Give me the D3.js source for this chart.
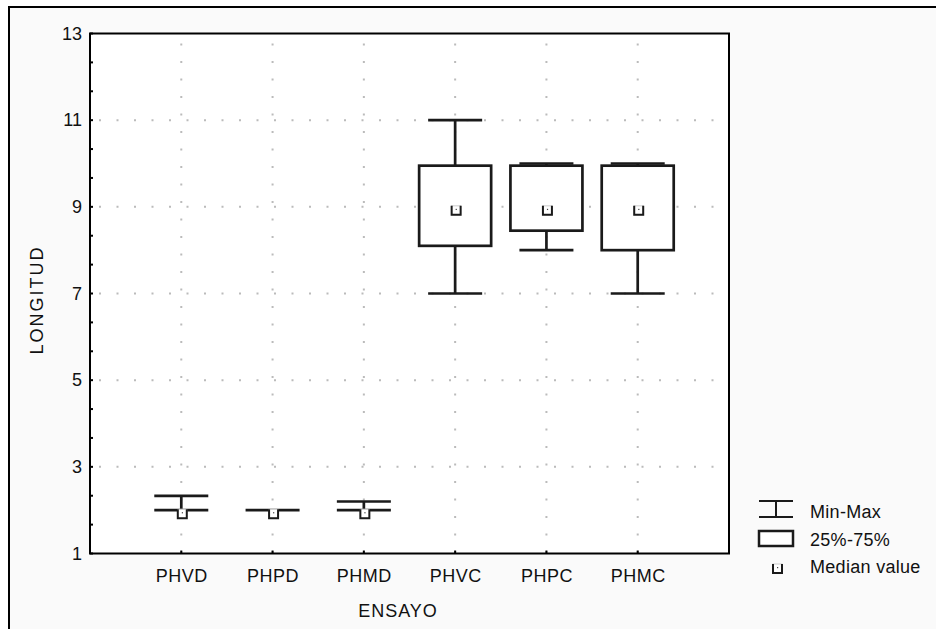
<!DOCTYPE html>
<html>
<head>
<meta charset="utf-8">
<script src="https://cdn.jsdelivr.net/npm/d3@7"></script>
<style>
  body { margin: 0; background: #fff; }
  text { font-family: Arial, "Liberation Sans", sans-serif; fill: #111; }
</style>
</head>
<body>
<script>
// box plot values
const categories = ["PHVD", "PHPD", "PHMD", "PHVC", "PHPC", "PHMC"];
const minValues = [2, 2, 2, 7, 8, 7];
const q1Values = [2, 2, 2, 8.1, 8.45, 8];
const medianValues = [2, 2, 2, 9, 9, 9];
const q3Values = [2, 2, 2, 9.95, 9.95, 9.95];
const maxValues = [2.33, 2, 2.2, 11, 10, 10];
const yTicks = [1, 3, 5, 7, 9, 11, 13];
const gridValues = [3, 5, 7, 9, 11];
const legendLabels = ["Min-Max", "25%-75%", "Median value"];

const width = 936, height = 629;
const plot = {left: 90, top: 33.5, right: 729, bottom: 553.5};
const ink = "#1a1a1a";
const fontSize = 18;

const svg = d3.select("body").append("svg")
  .attr("width", width)
  .attr("height", height);

// outer panel (only left and top edges are visible)
svg.append("rect")
  .attr("x", 9).attr("y", 7)
  .attr("width", width).attr("height", height)
  .attr("fill", "#fafafa");
svg.append("path")
  .attr("d", `M9,${height}V7H${width}`)
  .attr("fill", "none").attr("stroke", "#000").attr("stroke-width", 2);

svg.append("rect")
  .attr("x", plot.left).attr("y", plot.top)
  .attr("width", plot.right - plot.left).attr("height", plot.bottom - plot.top)
  .attr("fill", "#fff");

const y = d3.scaleLinear().domain([1, 13]).range([plot.bottom, plot.top]);
const x = d3.scalePoint().domain(categories).range([plot.left, plot.right]).padding(1);

// dotted grid
const grid = svg.append("g").attr("stroke", "#bbb").attr("stroke-width", 2)
  .attr("stroke-dasharray", "2,15.5");
grid.selectAll(".hg").data(gridValues).enter().append("line")
  .attr("x1", plot.left + 9).attr("x2", plot.right)
  .attr("y1", d => y(d)).attr("y2", d => y(d));
grid.selectAll(".vg").data(categories).enter().append("line")
  .attr("x1", d => x(d)).attr("x2", d => x(d))
  .attr("y1", plot.top + 10).attr("y2", plot.bottom);

// y axis labels
const yAxis = svg.append("g")
  .attr("transform", `translate(${plot.left},0)`)
  .call(d3.axisLeft(y).tickValues(yTicks).tickSize(0).tickPadding(8).tickFormat(d3.format("d")));
yAxis.select(".domain").remove();
yAxis.selectAll("text").attr("font-size", fontSize).attr("font-family", "Arial, 'Liberation Sans', sans-serif")
  .attr("fill", "#111");

// minor ticks on left axis (3 per interval)
svg.append("g").selectAll("line").data(d3.range(0, 19).map(i => 1 + i * 2 / 3)).enter().append("line")
  .attr("x1", plot.left).attr("x2", plot.left + 3)
  .attr("y1", d => y(d)).attr("y2", d => y(d))
  .attr("stroke", "#000").attr("stroke-width", 2);

// x axis labels
const xAxis = svg.append("g")
  .attr("transform", `translate(0,${plot.bottom})`)
  .call(d3.axisBottom(x).tickSize(0).tickPadding(16));
xAxis.select(".domain").remove();
xAxis.selectAll("text").attr("font-size", fontSize).attr("font-family", "Arial, 'Liberation Sans', sans-serif")
  .attr("fill", "#111").attr("letter-spacing", 0.5);
svg.append("g").selectAll("line").data(categories).enter().append("line")
  .attr("x1", d => x(d)).attr("x2", d => x(d))
  .attr("y1", plot.bottom).attr("y2", plot.bottom - 3)
  .attr("stroke", "#000").attr("stroke-width", 2);

// axis titles
svg.append("text")
  .attr("x", 398).attr("y", 617)
  .attr("text-anchor", "middle").attr("font-size", fontSize).attr("letter-spacing", 1)
  .text("ENSAYO");
svg.append("text")
  .attr("transform", "translate(43,300) rotate(-90)")
  .attr("text-anchor", "middle").attr("font-size", fontSize).attr("letter-spacing", 2)
  .text("LONGITUD");

// boxes
const rows = categories.map((c, i) => ({
  c, min: minValues[i], q1: q1Values[i], med: medianValues[i], q3: q3Values[i], max: maxValues[i]
}));
const boxW = 72, capW = 54;
const g = svg.append("g").attr("stroke", ink).attr("stroke-width", 2.7).attr("fill", "none");

g.selectAll(".stem").data(rows).enter().append("path")
  .attr("d", d => `M${x(d.c)},${y(d.max)}V${y(d.q3)}M${x(d.c)},${y(d.q1)}V${y(d.min)}`);
g.selectAll(".cap").data(rows).enter().append("path")
  .attr("d", d => `M${x(d.c) - capW / 2},${y(d.max)}h${capW}M${x(d.c) - capW / 2},${y(d.min)}h${capW}`);
g.selectAll(".box").data(rows).enter().append("rect")
  .attr("x", d => x(d.c) - boxW / 2)
  .attr("y", d => y(d.q3))
  .attr("width", boxW)
  .attr("height", d => y(d.q1) - y(d.q3))
  .attr("fill", "#fff");

// median marker: small square, dark sides and bottom
function medianMarker(sel, cx, cy) {
  sel.append("rect")
    .attr("x", cx - 3.5).attr("y", cy - 1).attr("width", 9).attr("height", 9)
    .attr("fill", "#fff").attr("stroke", "#ccc").attr("stroke-width", 1);
  sel.append("path")
    .attr("d", `M${cx - 3.5},${cy - 1}V${cy + 8}H${cx + 5.5}V${cy - 1}`)
    .attr("fill", "none").attr("stroke", ink).attr("stroke-width", 2);
  sel.append("rect")
    .attr("x", cx + 0.5).attr("y", cy + 2).attr("width", 1.2).attr("height", 1.2)
    .attr("fill", "#444");
}
const meds = svg.append("g");
rows.forEach(d => medianMarker(meds, x(d.c), y(d.med)));

// plot frame
svg.append("rect")
  .attr("x", plot.left).attr("y", plot.top)
  .attr("width", plot.right - plot.left).attr("height", plot.bottom - plot.top)
  .attr("fill", "none").attr("stroke", "#000").attr("stroke-width", 2);

// legend
const lg = svg.append("g");
const lx = 759, lw = 34;
lg.append("path")
  .attr("d", `M${lx},501H${lx + lw}M${lx},517H${lx + lw}M${lx + lw / 2},501V517`)
  .attr("fill", "none").attr("stroke", ink).attr("stroke-width", 2);
lg.append("rect")
  .attr("x", lx).attr("y", 531).attr("width", lw).attr("height", 15)
  .attr("fill", "#fff").attr("stroke", ink).attr("stroke-width", 2.5);
medianMarker(lg, 776.5, 565);
lg.selectAll("text").data(legendLabels).enter().append("text")
  .attr("x", 810)
  .attr("y", (d, i) => 512 + i * 27.5)
  .attr("dy", "0.35em")
  .attr("font-size", fontSize).attr("letter-spacing", 0.3)
  .text(d => d);
</script>
</body>
</html>
